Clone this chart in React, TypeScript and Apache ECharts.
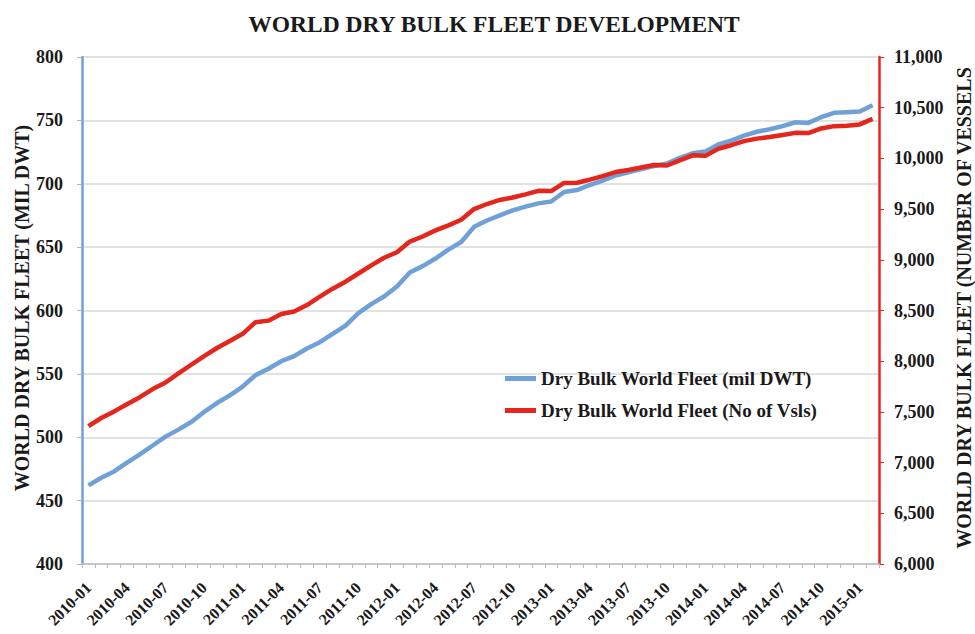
import React, { useEffect, useRef } from "react";
import * as echarts from "echarts";

const months: string[] = [
  "2010-01","2010-02","2010-03","2010-04","2010-05","2010-06","2010-07","2010-08","2010-09","2010-10","2010-11","2010-12",
  "2011-01","2011-02","2011-03","2011-04","2011-05","2011-06","2011-07","2011-08","2011-09","2011-10","2011-11","2011-12",
  "2012-01","2012-02","2012-03","2012-04","2012-05","2012-06","2012-07","2012-08","2012-09","2012-10","2012-11","2012-12",
  "2013-01","2013-02","2013-03","2013-04","2013-05","2013-06","2013-07","2013-08","2013-09","2013-10","2013-11","2013-12",
  "2014-01","2014-02","2014-03","2014-04","2014-05","2014-06","2014-07","2014-08","2014-09","2014-10","2014-11","2014-12",
  "2015-01","2015-02",
];

const fleetDwt: number[] = [
  462, 468, 473, 480, 486.5, 493.5, 500.5, 506, 512, 520, 527, 533,
  540, 549, 554, 560, 564, 570, 575, 581.5, 588, 598, 605, 611,
  619, 630, 635, 641, 648, 654, 666, 671, 675, 679, 682, 684.5,
  686, 693.5, 695, 699, 702.5, 706.5, 709, 711.5, 714, 716, 720.5, 724,
  725.5, 731, 734, 738, 741, 743, 745.5, 748.5, 748, 752.5, 756, 756.5,
  757, 762,
];

const fleetVessels: number[] = [
  7360, 7440, 7505, 7575, 7645, 7725, 7790, 7880, 7965, 8050, 8130, 8200,
  8270, 8385, 8400, 8465, 8490, 8554, 8636, 8715, 8784, 8865, 8945, 9020,
  9075, 9180, 9230, 9290, 9340, 9395, 9500, 9550, 9590, 9615, 9645, 9680,
  9678, 9758, 9760, 9790, 9825, 9865, 9885, 9910, 9935, 9930, 9980, 10030,
  10025, 10095, 10130, 10170, 10195, 10212, 10230, 10252, 10250, 10295, 10318, 10322,
  10335, 10390,
];

const seriesNames: string[] = [
  "Dry Bulk World Fleet (mil DWT)",
  "Dry Bulk World Fleet (No of Vsls)",
];

const titleText = "WORLD DRY BULK FLEET DEVELOPMENT";
const leftAxisName = "WORLD DRY BULK FLEET (MIL DWT)";
const rightAxisName = "WORLD DRY BULK FLEET (NUMBER OF VESSELS";

const SERIF = "Liberation Serif";
const BLUE = "#6fa1d8";
const RED = "#e4261c";
const TEXT = "#1a1a1a";

export default function App() {
  const ref = useRef<HTMLDivElement>(null);

  useEffect(() => {
    if (!ref.current) return;
    const chart = echarts.init(ref.current, undefined, { renderer: "svg" });
    const textStyleBase = {
      fontFamily: SERIF,
      fontWeight: "bold",
      fill: TEXT,
      textAlign: "center",
      textVerticalAlign: "middle",
    };
    chart.setOption({
      animation: false,
      backgroundColor: "#ffffff",
      textStyle: { fontFamily: SERIF },
      graphic: [
        {
          type: "text",
          x: 494,
          y: 24,
          style: { ...textStyleBase, text: titleText, fontSize: 23.5 },
        },
        {
          type: "text",
          x: 22,
          y: 308,
          rotation: Math.PI / 2,
          style: { ...textStyleBase, text: leftAxisName, fontSize: 20 },
        },
        {
          type: "text",
          x: 964,
          y: 308,
          rotation: Math.PI / 2,
          style: { ...textStyleBase, text: rightAxisName, fontSize: 20 },
        },
      ],
      legend: {
        orient: "vertical",
        left: 500,
        top: 364,
        itemGap: 13,
        itemWidth: 31,
        itemHeight: 5,
        icon: "rect",
        data: seriesNames,
        textStyle: {
          fontFamily: SERIF,
          fontWeight: "bold",
          fontSize: 19,
          color: TEXT,
        },
      },
      grid: { left: 82, right: 96, top: 57, bottom: 70, containLabel: false },
      xAxis: {
        type: "category",
        data: months,
        boundaryGap: true,
        axisLine: { lineStyle: { color: "#bdbdbd", width: 1.5 } },
        axisTick: { show: true, interval: 0, length: 4, lineStyle: { color: "#bdbdbd" } },
        axisLabel: {
          interval: 2,
          rotate: 45,
          fontFamily: SERIF,
          fontWeight: "bold",
          fontSize: 16,
          color: TEXT,
          margin: 21,
        },
        splitLine: { show: false },
      },
      yAxis: [
        {
          type: "value",
          min: 400,
          max: 800,
          interval: 50,
          position: "left",
          axisLine: { show: true, lineStyle: { color: BLUE, width: 2.5 } },
          axisTick: { show: true, length: 5, lineStyle: { color: "#9bb8dd" } },
          axisLabel: { fontFamily: SERIF, fontWeight: "bold", fontSize: 18, color: TEXT, margin: 19 },
          splitLine: { show: true, lineStyle: { color: "#d9d9d9", width: 1.5 } },
        },
        {
          type: "value",
          min: 6000,
          max: 11000,
          interval: 500,
          position: "right",
          axisLine: { show: true, lineStyle: { color: RED, width: 2.5 } },
          axisTick: { show: true, length: 5, lineStyle: { color: RED } },
          axisLabel: {
            fontFamily: SERIF,
            fontWeight: "bold",
            fontSize: 18,
            color: TEXT,
            margin: 15,
            formatter: (v: number) => v.toLocaleString("en-US"),
          },
          splitLine: { show: false },
        },
      ],
      series: [
        {
          name: seriesNames[0],
          type: "line",
          yAxisIndex: 0,
          data: fleetDwt,
          showSymbol: false,
          symbol: "none",
          lineStyle: { color: BLUE, width: 4.5 },
          itemStyle: { color: BLUE },
          z: 2,
        },
        {
          name: seriesNames[1],
          type: "line",
          yAxisIndex: 1,
          data: fleetVessels,
          showSymbol: false,
          symbol: "none",
          lineStyle: { color: RED, width: 4.5 },
          itemStyle: { color: RED },
          z: 3,
        },
      ],
    });
    return () => chart.dispose();
  }, []);

  return (
    <div
      ref={ref}
      style={{ position: "fixed", left: 0, top: 0, width: 975, height: 634 }}
    />
  );
}
